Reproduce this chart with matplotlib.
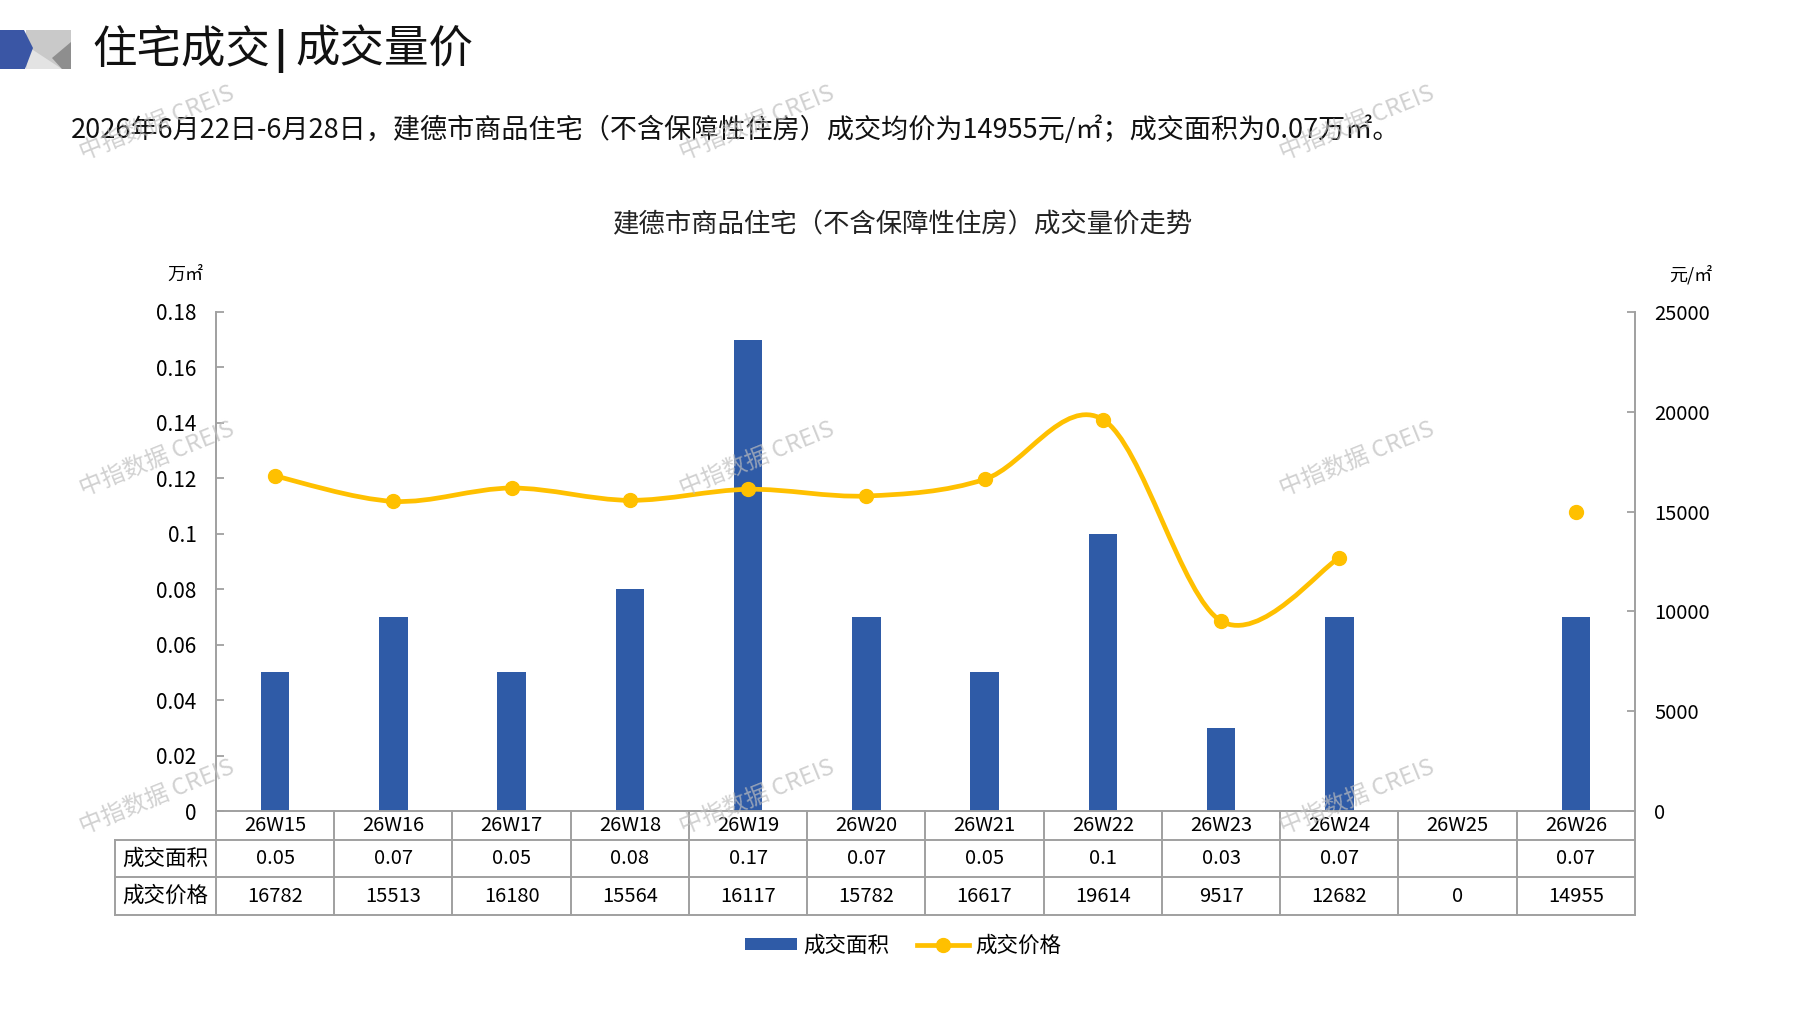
import matplotlib
matplotlib.use("Agg")
import matplotlib.pyplot as plt
import numpy as np
from matplotlib.path import Path
from matplotlib.patches import PathPatch, Polygon
from matplotlib.lines import Line2D
from matplotlib.transforms import blended_transform_factory

plt.rcParams['font.family'] = ['Noto Sans CJK SC', 'DejaVu Sans']

# 数据
weeks = ['26W15', '26W16', '26W17', '26W18', '26W19', '26W20',
         '26W21', '26W22', '26W23', '26W24', '26W25', '26W26']
area = [0.05, 0.07, 0.05, 0.08, 0.17, 0.07, 0.05, 0.1, 0.03, 0.07, None, 0.07]
price = [16782, 15513, 16180, 15564, 16117, 15782, 16617, 19614, 9517, 12682, 0, 14955]

header_left = '住宅成交'
header_right = '成交量价'
subtitle = '2026年6月22日-6月28日，建德市商品住宅（不含保障性住房）成交均价为14955元/㎡；成交面积为0.07万㎡。'
chart_title = '建德市商品住宅（不含保障性住房）成交量价走势'
row_labels = ['成交面积', '成交价格']
series_names = ['成交面积', '成交价格']
watermark = '中指数据 CREIS'

BLUE = '#2F5BA7'
GOLD = '#FFC000'
GREY = '#A0A0A0'
W, H = 1797, 1010

fig = plt.figure(figsize=(W / 100, H / 100), dpi=100)
fig.patch.set_facecolor('white')

# 主坐标轴（像素: 左216 右1635 上312 下811）
ax = fig.add_axes([216 / W, 1 - 811 / H, (1635 - 216) / W, (811 - 312) / H])
x = np.arange(len(weeks))
bar_vals = [a if a is not None else 0 for a in area]
bars = ax.bar(x, bar_vals, width=0.24, color=BLUE, zorder=2)
ax.set_xlim(-0.5, len(weeks) - 0.5)
ax.set_ylim(0, 0.18)
ax.set_yticks(np.arange(0, 0.181, 0.02))
ax.set_yticklabels([f'{v:g}' for v in np.round(np.arange(0, 0.181, 0.02), 2)])
ax.set_xticks([])
ax.tick_params(axis='y', direction='in', length=6, color=GREY, width=1.3,
               labelsize=15, pad=14)
for s in ['top', 'right']:
    ax.spines[s].set_visible(False)
for s in ['left', 'bottom']:
    ax.spines[s].set_color(GREY)
    ax.spines[s].set_linewidth(1.4)

ax2 = ax.twinx()
ax2.set_ylim(0, 25000)
ax2.set_yticks(np.arange(0, 25001, 5000))
ax2.tick_params(axis='y', direction='in', length=6, color=GREY, width=1.3,
                labelsize=14.5, pad=14)
for s in ['top', 'left', 'bottom']:
    ax2.spines[s].set_visible(False)
ax2.spines['right'].set_color(GREY)
ax2.spines['right'].set_linewidth(1.4)


def smooth_path(xs, ys):
    # 类似 Excel 平滑线的三次贝塞尔
    verts = [(xs[0], ys[0])]
    codes = [Path.MOVETO]
    n = len(xs)
    for i in range(n - 1):
        a = i - 1 if i > 0 else i
        b = i + 2 if i + 2 < n else i + 1
        c1 = (xs[i] + (xs[i + 1] - xs[a]) / 6, ys[i] + (ys[i + 1] - ys[a]) / 6)
        c2 = (xs[i + 1] - (xs[b] - xs[i]) / 6, ys[i + 1] - (ys[b] - ys[i]) / 6)
        verts += [c1, c2, (xs[i + 1], ys[i + 1])]
        codes += [Path.CURVE4] * 3
    return Path(verts, codes)


# 价格为0视为无数据，分段绘制
runs, cur = [], []
for i, p in enumerate(price):
    if p > 0:
        cur.append(i)
    elif cur:
        runs.append(cur)
        cur = []
if cur:
    runs.append(cur)
for r in runs:
    xs = [float(i) for i in r]
    ys = [float(price[i]) for i in r]
    if len(r) > 1:
        ax2.add_patch(PathPatch(smooth_path(xs, ys), fill=False, edgecolor=GOLD,
                                lw=3.4, capstyle='round', zorder=3))
    ax2.plot(xs, ys, ls='none', marker='o', ms=10, color=GOLD, zorder=4)

# 叠加层（像素坐标）
ov = fig.add_axes([0, 0, 1, 1], zorder=5)
ov.set_xlim(0, W)
ov.set_ylim(H, 0)
ov.axis('off')
ov.patch.set_alpha(0)

# 左上角图标
ov.add_patch(Polygon([(26, 30), (71, 30), (71, 69), (26, 69)], color='#C9C9C9', lw=0))
ov.add_patch(Polygon([(30, 48), (62, 69), (26, 69)], color='#E3E3E3', lw=0))
ov.add_patch(Polygon([(71, 42), (52, 58), (62, 69), (71, 69)], color='#8E8E8E', lw=0))
ov.add_patch(Polygon([(0, 30), (24, 30), (33, 48), (25, 69), (0, 69)], color='#3A56A5', lw=0))

# 标题：左右两段，中间粗竖线
ov.text(92, 50, header_left, fontsize=32, va='center', ha='left', color='#111111')
ov.plot([281, 281], [29, 73], color='#111111', lw=3.2, solid_capstyle='butt')
ov.text(295, 50, header_right, fontsize=32, va='center', ha='left', color='#111111')
ov.text(71, 130, subtitle, fontsize=19.5, va='center', ha='left', color='#111111')
ov.text(903, 225, chart_title, fontsize=19, va='center', ha='center', color='#222222')
ov.text(185, 275, '万㎡', fontsize=13, va='center', ha='center')
ov.text(1691, 275, '元/㎡', fontsize=13, va='center', ha='center')

# 水印
for wx in [157, 757, 1357]:
    for wy in [123, 459, 797]:
        ov.text(wx, wy, watermark, fontsize=17, rotation=22, color='#BEBEBE',
                alpha=0.7, ha='center', va='center', zorder=10)

# 数据表
tr = blended_transform_factory(ax.transData, ov.transData)
y0, y1, y2, y3 = 811, 840, 877, 915
lab_left = -1.35
tk = dict(color=GREY, lw=1.4, transform=tr, clip_on=False)
ov.add_line(Line2D([lab_left, len(weeks) - 0.5], [y1, y1], **tk))
ov.add_line(Line2D([lab_left, len(weeks) - 0.5], [y2, y2], **tk))
ov.add_line(Line2D([lab_left, len(weeks) - 0.5], [y3, y3], **tk))
ov.add_line(Line2D([lab_left, lab_left], [y1, y3], **tk))
for i in range(len(weeks) + 1):
    ov.add_line(Line2D([i - 0.5, i - 0.5], [y0, y3], **tk))

for i, wk in enumerate(weeks):
    ov.text(i, (y0 + y1) / 2, wk, transform=tr, ha='center', va='center', fontsize=14.5)
    ov.text(i, (y1 + y2) / 2, '' if area[i] is None else f'{area[i]:g}', transform=tr,
            ha='center', va='center', fontsize=14.5)
    ov.text(i, (y2 + y3) / 2, str(price[i]), transform=tr, ha='center', va='center',
            fontsize=14.5)
lab_cx = (lab_left - 0.5) / 2
ov.text(lab_cx, (y1 + y2) / 2, row_labels[0], transform=tr, ha='center', va='center', fontsize=15.5)
ov.text(lab_cx, (y2 + y3) / 2, row_labels[1], transform=tr, ha='center', va='center', fontsize=15.5)

# 图例
handles = [bars.patches[0],
           Line2D([], [], color=GOLD, lw=3.4, marker='o', ms=10)]
fig.legend(handles, series_names, loc='center', bbox_to_anchor=(903 / W, 1 - 946 / H),
           ncol=2, frameon=False, fontsize=15.5, handlelength=2.4, handleheight=0.5,
           handletextpad=0.3, columnspacing=1.3)

fig.savefig('out.png', dpi=100)
